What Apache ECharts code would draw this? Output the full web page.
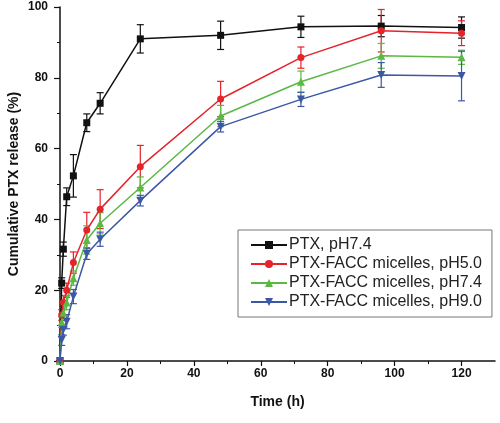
<!DOCTYPE html>
<html><head><meta charset="utf-8">
<script src="https://cdn.jsdelivr.net/npm/echarts@6/dist/echarts.min.js"></script>
<style>html,body{margin:0;padding:0;background:#fff}#c{width:500px;height:423px}</style>
</head><body><div id="c"></div>
<script>
const times = [0, 0.5, 1, 2, 4, 8, 12, 24, 48, 72, 96, 120];
const seriesNames = ['PTX, pH7.4', 'PTX-FACC micelles, pH5.0', 'PTX-FACC micelles, pH7.4', 'PTX-FACC micelles, pH9.0'];
const ptx74 =     [0, 22, 31.6, 46.4, 52.3, 67.3, 72.8, 91.0, 92.0, 94.4, 94.6, 94.2];
const ptx74Err =  [0, 1.5, 2, 2.5, 6, 2.5, 3, 4, 4, 3, 3, 3];
const facc50 =    [0, 13, 16.5, 20, 27.8, 37, 42.9, 54.9, 74, 85.7, 93.3, 92.6];
const facc50Err = [0, 1.5, 2, 2, 3, 5, 5.5, 6, 5, 3, 6, 3.5];
const facc74 =    [0, 11, 13.6, 16.5, 23.4, 34.2, 38.9, 49, 69.2, 78.9, 86.2, 85.8];
const facc74Err = [0, 1.5, 1.5, 2, 2, 4, 3, 3, 3, 3, 3.5, 2];
const facc90 =    [0, 5.9, 8.8, 11.1, 18.2, 30.2, 34.4, 45.3, 66.2, 73.9, 80.8, 80.5];
const facc90Err = [0, 1.5, 1.5, 2, 2, 1.5, 2, 1.5, 1.5, 2, 3.5, 7];
const xTicks = [0, 20, 40, 60, 80, 100, 120];
const yTicks = [0, 20, 40, 60, 80, 100];

const colors = ['#111111', '#e5232b', '#5ab843', '#3c57a6'];
const symbols = ['rect', 'circle', 'triangle', 'path://M0,0 L10,0 L5,9 Z'];
const sizes = [7, 7, 8, 8];
const vals = [ptx74, facc50, facc74, facc90];
const errs = [ptx74Err, facc50Err, facc74Err, facc90Err];
const FONT = 'Liberation Sans, Arial, sans-serif';

const series = [];
vals.forEach((v, i) => {
  series.push({
    type: 'custom',
    silent: true,
    z: 2,
    data: times.map((t, k) => [t, v[k] - errs[i][k], v[k] + errs[i][k]]),
    renderItem: function (params, api) {
      const lo = api.coord([api.value(0), api.value(1)]);
      const hi = api.coord([api.value(0), api.value(2)]);
      const w = 3.5;
      const st = { stroke: colors[i], lineWidth: 1.2 };
      return { type: 'group', children: [
        { type: 'line', shape: { x1: lo[0], y1: lo[1], x2: hi[0], y2: hi[1] }, style: st },
        { type: 'line', shape: { x1: lo[0] - w, y1: lo[1], x2: lo[0] + w, y2: lo[1] }, style: st },
        { type: 'line', shape: { x1: hi[0] - w, y1: hi[1], x2: hi[0] + w, y2: hi[1] }, style: st }
      ]};
    }
  });
  series.push({
    name: seriesNames[i],
    type: 'line',
    z: 3,
    data: times.map((t, k) => [t, v[k]]),
    symbol: symbols[i],
    symbolSize: sizes[i],
    showAllSymbol: true,
    lineStyle: { color: colors[i], width: 1.5 },
    itemStyle: { color: colors[i] },
    emphasis: { disabled: true }
  });
});

const chart = echarts.init(document.getElementById('c'), null, { renderer: 'canvas' });
chart.setOption({
  animation: false,
  backgroundColor: '#ffffff',
  grid: { left: 60, right: 5, top: 7, bottom: 62, containLabel: false, outerBoundsMode: 'none' },
  legend: {
    data: seriesNames,
    orient: 'vertical',
    left: 238, top: 230,
    padding: [7, 10, 7, 12],
    itemGap: 3,
    itemWidth: 36,
    itemHeight: 10,
    borderColor: '#777777',
    borderWidth: 1,
    textStyle: { fontFamily: FONT, fontSize: 16, color: '#222222', lineHeight: 16, padding: [0, 0, 0, -3] }
  },
  xAxis: {
    type: 'value', min: 0, max: 130, interval: 20,
    name: 'Time (h)', nameLocation: 'middle', nameGap: 34, nameMoveOverlap: false,
    nameTextStyle: { fontFamily: FONT, fontSize: 14, fontWeight: 'bold', color: '#111' },
    axisLine: { lineStyle: { color: '#111', width: 1.5 } },
    axisTick: { show: true, inside: false, length: 5, lineStyle: { color: '#111', width: 1.2 }, customValues: xTicks },
    minorTick: { show: true, splitNumber: 2, length: 3, lineStyle: { color: '#111', width: 1 } },
    axisLabel: { fontFamily: FONT, fontSize: 12, fontWeight: 'bold', color: '#111', margin: 7, customValues: xTicks },
    splitLine: { show: false }
  },
  yAxis: {
    type: 'value', min: 0, max: 100, interval: 20,
    name: 'Cumulative PTX release (%)', nameLocation: 'middle', nameGap: 39, nameRotate: 90, nameMoveOverlap: false,
    nameTextStyle: { fontFamily: FONT, fontSize: 14, fontWeight: 'bold', color: '#111' },
    axisLine: { show: true, lineStyle: { color: '#111', width: 1.5 } },
    axisTick: { show: true, inside: false, length: 6, lineStyle: { color: '#111', width: 1.2 }, customValues: yTicks },
    minorTick: { show: true, splitNumber: 2, length: 3, lineStyle: { color: '#111', width: 1 } },
    axisLabel: { fontFamily: FONT, fontSize: 12, fontWeight: 'bold', color: '#111', margin: 12, customValues: yTicks },
    splitLine: { show: false }
  },
  series: series
});
</script>
</body></html>
